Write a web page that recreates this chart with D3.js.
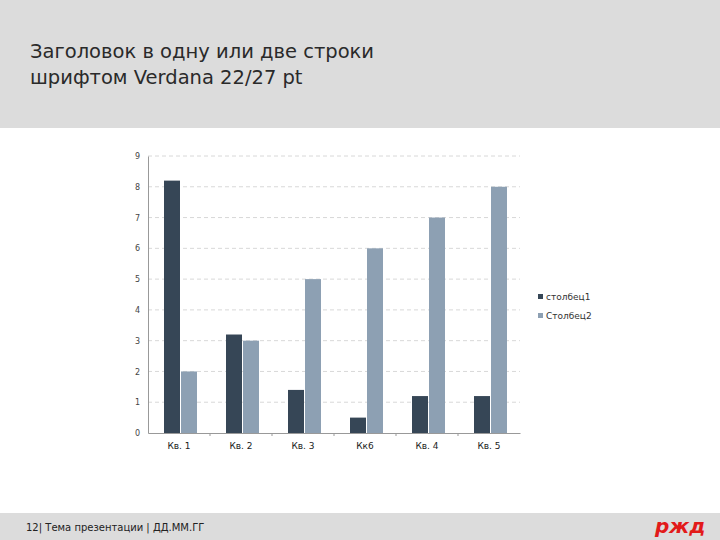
<!DOCTYPE html>
<html><head><meta charset="utf-8">
<script src="https://cdn.jsdelivr.net/npm/d3@7"></script>
<style>body{margin:0}svg{display:block}</style>
</head><body>
<script>
const categories = ["Кв. 1", "Кв. 2", "Кв. 3", "Кк6", "Кв. 4", "Кв. 5"];
const series1 = [8.2, 3.2, 1.4, 0.5, 1.2, 1.2];
const series2 = [2, 3, 5, 6, 7, 8];
const seriesNames = ["столбец1", "Столбец2"];
const colors = ["#364656", "#8da0b3"];

const svg = d3.select("body").append("svg").attr("width", 720).attr("height", 540);
svg.append("rect").attr("width", 720).attr("height", 540).attr("fill", "#fff");
svg.append("rect").attr("width", 720).attr("height", 128).attr("fill", "#dcdcdc");
svg.append("rect").attr("y", 513).attr("width", 720).attr("height", 27).attr("fill", "#dcdcdc");

const title = ["Заголовок в одну или две строки", "шрифтом Verdana 22/27 pt"];
svg.selectAll(".title").data(title).enter().append("text")
  .attr("x", 30).attr("y", (d, i) => 58 + i * 26)
  .attr("font-family", "DejaVu Sans").attr("font-size", 19.5).attr("fill", "#2a2a2a")
  .text(d => d);

svg.append("text").attr("x", 26).attr("y", 531)
  .attr("font-family", "DejaVu Sans").attr("font-size", 10).attr("fill", "#222")
  .text("12| Тема презентации | ДД.ММ.ГГ");
svg.append("text").attr("x", 655).attr("y", 533)
  .attr("font-family", "DejaVu Sans").attr("font-weight", "bold").attr("font-style", "italic")
  .attr("font-size", 20).attr("fill", "#e21a1a").text("ржд");

const x = d3.scaleBand().domain(categories).range([148, 520]);
const y = d3.scaleLinear().domain([0, 9]).range([433, 156]);

const g = svg.append("g");
g.selectAll(".grid").data(d3.range(1, 10)).enter().append("line")
  .attr("x1", 148).attr("x2", 520).attr("y1", d => y(d)).attr("y2", d => y(d))
  .attr("stroke", "#d8d8d8").attr("stroke-dasharray", "4,3");

const bw = 16;
[series1, series2].forEach((s, k) => {
  g.selectAll(".b" + k).data(s).enter().append("rect")
    .attr("x", (d, i) => x(categories[i]) + x.bandwidth() / 2 - bw + 1 + k * (bw + 1))
    .attr("y", d => y(d)).attr("width", bw).attr("height", d => y(0) - y(d))
    .attr("fill", colors[k]);
});

const xa = svg.append("g").attr("transform", "translate(0,433)")
  .call(d3.axisBottom(x).tickSize(0).tickPadding(10));
xa.select(".domain").attr("stroke", "#999");
xa.selectAll("text").attr("font-family", "DejaVu Sans").attr("font-size", 9).attr("fill", "#222");
xa.selectAll(".sep").data(categories.slice(1)).enter().append("line")
  .attr("x1", d => x(d)).attr("x2", d => x(d)).attr("y1", 0).attr("y2", 3).attr("stroke", "#999");

const ya = svg.append("g").attr("transform", "translate(148,0)")
  .call(d3.axisLeft(y).ticks(9).tickSize(0).tickPadding(8));
ya.select(".domain").attr("stroke", "#999");
ya.selectAll("text").attr("font-family", "DejaVu Sans").attr("font-size", 8).attr("fill", "#444");

seriesNames.forEach((n, k) => {
  svg.append("rect").attr("x", 538).attr("y", 294 + k * 19).attr("width", 5).attr("height", 5).attr("fill", colors[k]);
  svg.append("text").attr("x", 546).attr("y", 300 + k * 19)
    .attr("font-family", "DejaVu Sans").attr("font-size", 9).attr("fill", "#333").text(n);
});
</script>
</body></html>
